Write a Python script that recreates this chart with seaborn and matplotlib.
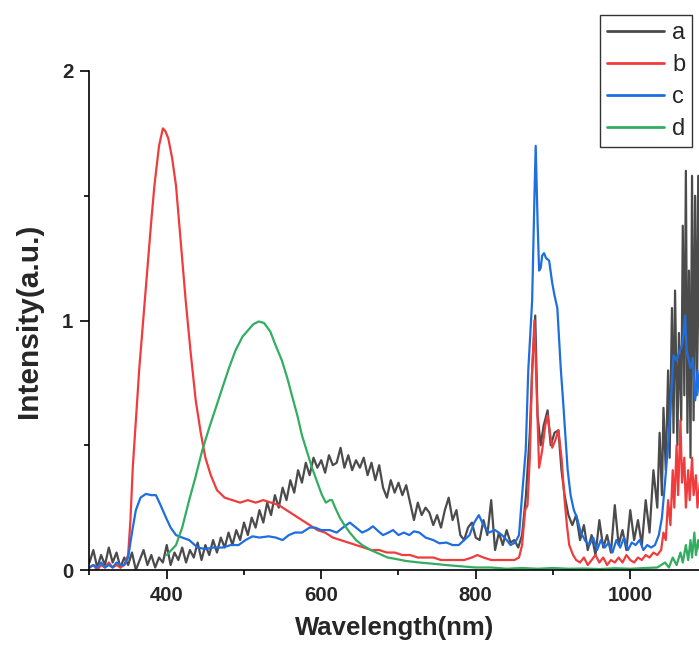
import matplotlib
matplotlib.use("Agg")
import matplotlib.pyplot as plt
from matplotlib.ticker import MultipleLocator
import seaborn as sns
import pandas as pd

# ---------------- data ----------------
wl_a = [300, 305, 310, 315, 320, 325, 330, 335, 340, 345,
        350, 355, 360, 365, 370, 375, 380, 385, 390, 395,
        400, 405, 410, 415, 420, 425, 430, 435, 440, 445,
        450, 455, 460, 465, 470, 475, 480, 485, 490, 495,
        500, 505, 510, 515, 520, 525, 530, 535, 540, 545,
        550, 555, 560, 565, 570, 575, 580, 585, 590, 595,
        600, 605, 610, 615, 620, 625, 630, 635, 640, 645,
        650, 655, 660, 665, 670, 675, 680, 685, 690, 695,
        700, 705, 710, 715, 720, 725, 730, 735, 740, 745,
        750, 755, 760, 765, 770, 775, 780, 785, 790, 795,
        800, 805, 810, 815, 820, 825, 830, 835, 840, 845,
        850, 855, 860, 865, 870, 873, 877, 880, 884, 888,
        893, 897, 902, 907, 911, 915, 920, 925, 930, 935,
        940, 945, 950, 955, 960, 965, 970, 975, 980, 985,
        990, 995, 1000, 1005, 1010, 1015, 1020, 1025, 1030, 1035,
        1038, 1041, 1043, 1046, 1049, 1051, 1054, 1056, 1058, 1061,
        1063, 1066, 1068, 1070, 1072, 1074, 1076, 1078, 1080, 1082,
        1084, 1086, 1088, 1090]
int_a = [0.03, 0.08, 0.01, 0.06, 0.02, 0.09, 0.03, 0.07, 0.01, 0.05,
         0.02, 0.07, 0.00, 0.04, 0.08, 0.02, 0.06, 0.01, 0.05, 0.03,
         0.10, 0.02, 0.07, 0.04, 0.09, 0.03, 0.08, 0.05, 0.11, 0.04,
         0.10, 0.06, 0.12, 0.07, 0.13, 0.09, 0.15, 0.10, 0.16, 0.12,
         0.19, 0.14, 0.21, 0.17, 0.24, 0.19, 0.27, 0.22, 0.30, 0.25,
         0.33, 0.28, 0.36, 0.31, 0.40, 0.35, 0.43, 0.38, 0.45, 0.41,
         0.44, 0.39, 0.46, 0.42, 0.43, 0.49, 0.41, 0.46, 0.40, 0.44,
         0.41, 0.45, 0.38, 0.43, 0.36, 0.42, 0.33, 0.29, 0.36, 0.31,
         0.35, 0.30, 0.34, 0.27, 0.20, 0.27, 0.22, 0.25, 0.23, 0.18,
         0.22, 0.17, 0.24, 0.29, 0.20, 0.24, 0.14, 0.12, 0.17, 0.19,
         0.13, 0.12, 0.20, 0.14, 0.28, 0.08, 0.15, 0.10, 0.16, 0.11,
         0.12, 0.09, 0.14, 0.30, 0.55, 0.80, 1.02, 0.62, 0.50, 0.58,
         0.64, 0.50, 0.55, 0.56, 0.40, 0.30, 0.22, 0.18, 0.22, 0.12,
         0.18, 0.08, 0.14, 0.06, 0.20, 0.09, 0.14, 0.07, 0.26, 0.10,
         0.16, 0.08, 0.24, 0.12, 0.20, 0.10, 0.28, 0.15, 0.40, 0.25,
         0.55, 0.30, 0.65, 0.40, 0.80, 0.45, 1.05, 0.55, 1.12, 0.50,
         0.95, 0.60, 1.38, 0.70, 1.60, 0.55, 1.20, 0.45, 1.58, 0.60,
         1.50, 0.70, 1.58, 0.80]

wl_b = [300, 305, 310, 315, 320, 325, 330, 335, 340, 345,
        350, 353, 356, 360, 364.5, 370, 375, 380, 384, 390,
        395, 398, 402, 407, 412, 418, 424.5, 431, 437.5, 444,
        450, 457, 465, 475, 485, 495, 505, 515, 525, 535,
        545, 555, 565, 575, 585, 595, 605, 615, 625, 635,
        645, 655, 665, 675, 685, 695, 705, 715, 725, 735,
        745, 755, 765, 775, 785, 795, 802, 810, 820, 830,
        840, 850, 856, 860, 864, 867, 870, 873, 876, 879,
        882, 886, 890, 893, 896, 899, 903, 907, 911, 915,
        918, 921, 926, 930, 935, 940, 945, 950, 955, 960,
        965, 970, 975, 980, 985, 990, 995, 1000, 1005, 1010,
        1015, 1020, 1025, 1030, 1035, 1040, 1043, 1046, 1049, 1052,
        1055, 1057, 1060, 1062, 1065, 1067, 1070, 1072, 1075, 1077,
        1080, 1082, 1085, 1087, 1090]
int_b = [0.01, 0.02, 0.00, 0.02, 0.01, 0.03, 0.01, 0.02, 0.01, 0.02,
         0.06, 0.20, 0.41, 0.60, 0.81, 1.02, 1.21, 1.40, 1.54, 1.70,
         1.77, 1.76, 1.73, 1.65, 1.54, 1.32, 1.08, 0.87, 0.68, 0.55,
         0.45, 0.38, 0.32, 0.29, 0.28, 0.27, 0.28, 0.27, 0.28, 0.27,
         0.26, 0.24, 0.22, 0.20, 0.18, 0.16, 0.15, 0.13, 0.12, 0.11,
         0.10, 0.09, 0.08, 0.08, 0.07, 0.07, 0.06, 0.06, 0.05, 0.05,
         0.05, 0.04, 0.04, 0.04, 0.04, 0.05, 0.06, 0.05, 0.04, 0.04,
         0.04, 0.04, 0.05, 0.10, 0.24, 0.26, 0.45, 0.80, 1.00, 0.70,
         0.41, 0.48, 0.58, 0.62, 0.55, 0.49, 0.52, 0.56, 0.45, 0.28,
         0.18, 0.10, 0.06, 0.04, 0.03, 0.05, 0.02, 0.04, 0.06, 0.03,
         0.05, 0.02, 0.04, 0.03, 0.05, 0.03, 0.06, 0.04, 0.03, 0.05,
         0.04, 0.06, 0.05, 0.07, 0.06, 0.08, 0.15, 0.12, 0.28, 0.18,
         0.40, 0.25, 0.50, 0.30, 0.60, 0.35, 0.45, 0.25, 0.40, 0.28,
         0.45, 0.30, 0.38, 0.25, 0.35]

wl_c = [300, 305, 310, 315, 320, 325, 330, 335, 340, 345,
        350, 355, 360, 366, 373, 380, 386, 392, 399, 405,
        412, 420, 429, 440, 450, 460, 472, 483, 493, 502,
        511, 520, 532, 541, 550, 558, 566, 575, 585, 592,
        600, 611, 620, 628, 637, 645, 653, 660, 667, 674,
        680, 687, 693, 700, 707, 714, 720, 727, 735, 745,
        753, 762, 770, 778, 785, 792, 798, 804, 810, 817,
        825, 834, 840, 845, 851, 856, 860, 864.7, 868, 873,
        876, 877.6, 880, 882, 884, 886, 888.4, 891, 895, 899,
        902, 905.6, 910, 913, 916, 919, 922.8, 927, 931, 936,
        942, 947, 952, 957, 962, 967, 972, 977, 982, 987,
        992, 997, 1002, 1007, 1012, 1017, 1022, 1027, 1032, 1037,
        1041, 1045, 1050, 1053, 1056, 1060, 1063, 1067, 1069, 1071,
        1073, 1075, 1078, 1081, 1084, 1087, 1090]
int_c = [0.01, 0.02, 0.01, 0.03, 0.01, 0.02, 0.01, 0.03, 0.02, 0.02,
         0.05, 0.15, 0.24, 0.29, 0.305, 0.30, 0.30, 0.26, 0.21, 0.17,
         0.14, 0.13, 0.12, 0.09, 0.084, 0.09, 0.09, 0.10, 0.10, 0.12,
         0.135, 0.13, 0.135, 0.13, 0.12, 0.14, 0.15, 0.15, 0.17, 0.17,
         0.16, 0.16, 0.15, 0.17, 0.19, 0.17, 0.15, 0.16, 0.175, 0.155,
         0.14, 0.15, 0.16, 0.14, 0.15, 0.14, 0.155, 0.15, 0.13, 0.12,
         0.107, 0.11, 0.10, 0.10, 0.12, 0.14, 0.19, 0.22, 0.18, 0.15,
         0.16, 0.14, 0.12, 0.10, 0.11, 0.14, 0.30, 0.48, 0.80, 1.08,
         1.50, 1.70, 1.40, 1.20, 1.21, 1.26, 1.27, 1.25, 1.24, 1.15,
         1.10, 1.05, 0.81, 0.68, 0.54, 0.40, 0.30, 0.24, 0.21, 0.15,
         0.116, 0.10, 0.13, 0.08, 0.12, 0.09, 0.11, 0.07, 0.12, 0.09,
         0.13, 0.08, 0.11, 0.10, 0.12, 0.08, 0.10, 0.09, 0.10, 0.14,
         0.21, 0.35, 0.54, 0.70, 0.86, 0.84, 0.87, 0.90, 0.95, 1.02,
         0.88, 0.85, 0.81, 0.85, 0.68, 0.80, 0.70]

wl_d = [400, 406, 412, 420, 429, 437, 446, 455, 463.5, 472,
        480.6, 489, 498, 505, 512, 519, 526, 534, 541, 549,
        556, 562, 569, 575, 582, 588, 595, 601, 606, 611,
        614, 618, 624, 630, 637, 645, 653, 664, 675, 686,
        697, 710, 727, 745, 761, 780, 800, 820, 840, 860,
        880, 900, 920, 940, 960, 980, 1000, 1020, 1035, 1045,
        1050, 1055, 1060, 1065, 1068, 1072, 1075, 1078, 1080, 1083,
        1085, 1088, 1090]
int_d = [0.06, 0.08, 0.10, 0.17, 0.28, 0.37, 0.48, 0.57, 0.65, 0.73,
         0.81, 0.88, 0.935, 0.96, 0.985, 0.996, 0.99, 0.956, 0.90, 0.84,
         0.77, 0.70, 0.62, 0.54, 0.47, 0.41, 0.35, 0.30, 0.27, 0.28,
         0.28, 0.25, 0.21, 0.18, 0.15, 0.12, 0.10, 0.08, 0.065, 0.05,
         0.044, 0.036, 0.03, 0.025, 0.02, 0.015, 0.01, 0.01, 0.005, 0.008,
         0.005, 0.008, 0.005, 0.006, 0.004, 0.007, 0.005, 0.008, 0.01, 0.03,
         0.01, 0.05, 0.02, 0.07, 0.03, 0.10, 0.04, 0.12, 0.05, 0.15,
         0.06, 0.12, 0.08]

series_names = ["a", "b", "c", "d"]
colors = ["#4b4b4b", "#f03c3c", "#1e6ee0", "#33ad62"]

x_ticks = [400, 600, 800, 1000]
y_ticks = [0, 1, 2]
x_label = "Wavelength(nm)"
y_label = "Intensity(a.u.)"

# ---------------- build table ----------------
frames = []
for name, wl, val in zip(series_names, [wl_a, wl_b, wl_c, wl_d],
                         [int_a, int_b, int_c, int_d]):
    frames.append(pd.DataFrame({"wl": wl, "I": val, "series": name}))
df = pd.concat(frames, ignore_index=True)

# ---------------- plot ----------------
sns.set_theme(style="ticks")
plt.rcParams["font.family"] = ["Liberation Sans", "DejaVu Sans"]

fig = plt.figure(figsize=(6.99, 6.5), dpi=100)
ax = fig.add_axes([89.5 / 699, 80 / 650, (699 - 89.5) / 699, 499 / 650])

sns.lineplot(data=df, x="wl", y="I", hue="series", hue_order=series_names,
             palette=dict(zip(series_names, colors)), estimator=None,
             sort=False, linewidth=1.6, ax=ax, legend=False)

ax.set_xlim(300, 1089)
ax.set_ylim(0, 2)
ax.set_xticks(x_ticks)
ax.set_yticks(y_ticks)
ax.xaxis.set_minor_locator(MultipleLocator(100))
ax.yaxis.set_minor_locator(MultipleLocator(0.5))

for s in ["top", "right"]:
    ax.spines[s].set_visible(False)
for s in ["left", "bottom"]:
    ax.spines[s].set_color("black")
    ax.spines[s].set_linewidth(1.2)

ax.tick_params(which="major", direction="out", length=6.5, width=1.2,
               color="black", labelsize=14.7, pad=5)
ax.tick_params(which="minor", direction="out", length=3.5, width=1.2,
               color="black")
for lab in ax.get_xticklabels() + ax.get_yticklabels():
    lab.set_fontweight("bold")

ax.set_xlabel(x_label, fontsize=18.5, fontweight="bold", labelpad=8)
ax.set_ylabel(y_label, fontsize=21.5, fontweight="bold", labelpad=14)

handles = [plt.Line2D([], [], color=c, lw=2) for c in colors]
leg = ax.legend(handles, series_names, loc="upper left",
                bbox_to_anchor=(600 / 699, 1 - 15 / 650),
                bbox_transform=fig.transFigure, fontsize=17, frameon=True,
                fancybox=False, framealpha=1, edgecolor="#333333",
                handlelength=2.4, handletextpad=0.35, borderpad=0.3,
                labelspacing=0.42, borderaxespad=0)
leg.get_frame().set_linewidth(1.0)

fig.savefig("out.png", dpi=100)
